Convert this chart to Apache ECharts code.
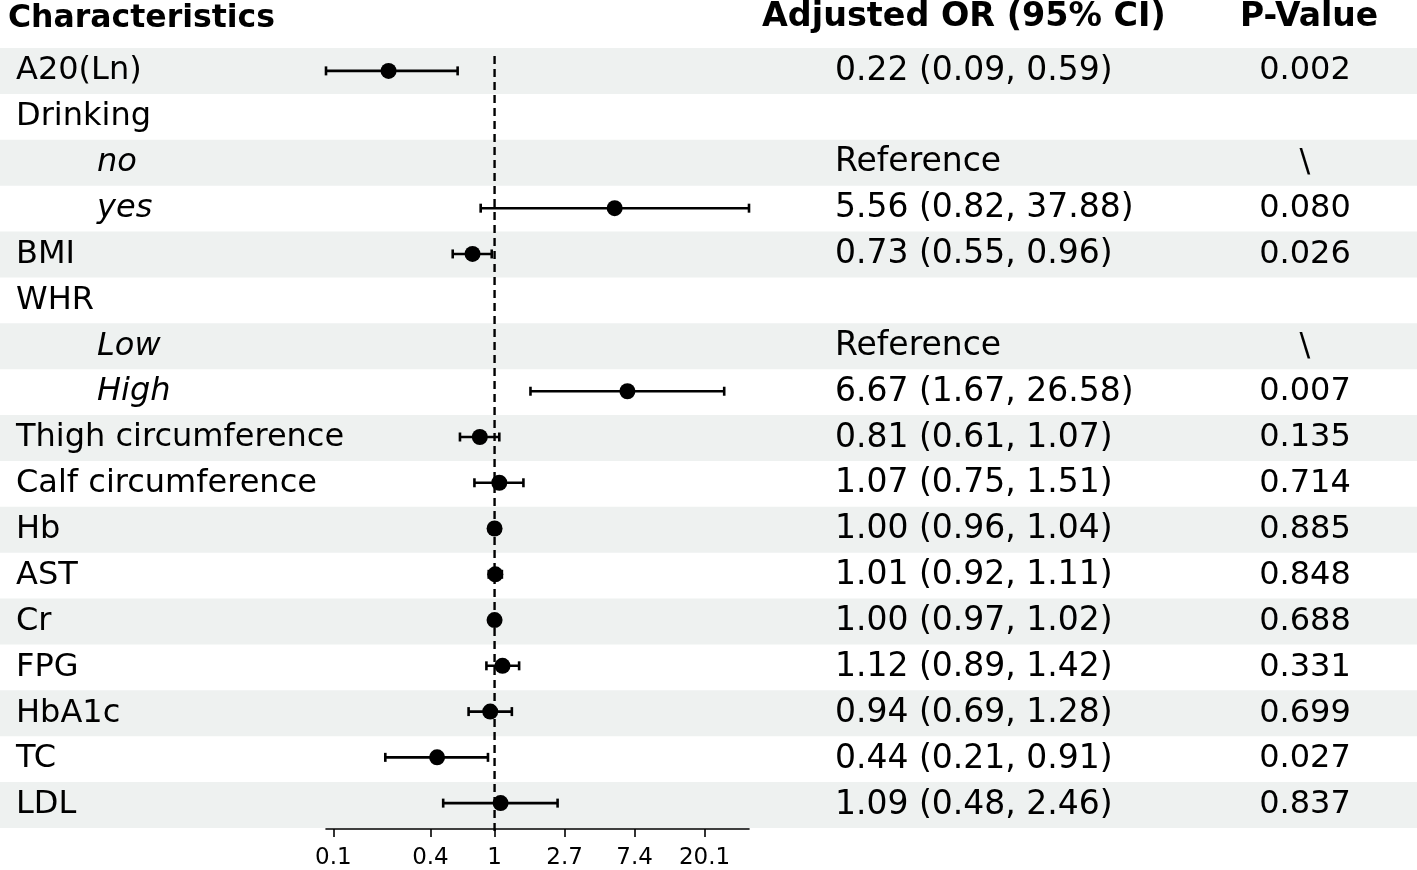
<!DOCTYPE html>
<html>
<head>
<meta charset="utf-8">
<script src="https://cdn.jsdelivr.net/npm/echarts@6/dist/echarts.min.js"></script>
<style>
  html, body { margin: 0; padding: 0; background: #fff; }
  #main { width: 1417px; height: 870px; }
</style>
</head>
<body>
<div id="main"></div>
<script>
var characteristics = ['A20(Ln)', 'Drinking', 'no', 'yes', 'BMI', 'WHR', 'Low', 'High',
  'Thigh circumference', 'Calf circumference', 'Hb', 'AST', 'Cr', 'FPG', 'HbA1c', 'TC', 'LDL'];
var subLevel = [0, 0, 1, 1, 0, 0, 1, 1, 0, 0, 0, 0, 0, 0, 0, 0, 0];
var isReference = [0, 0, 1, 0, 0, 0, 1, 0, 0, 0, 0, 0, 0, 0, 0, 0, 0];
var oddsRatio = [0.22, null, null, 5.56, 0.73, null, null, 6.67, 0.81, 1.07, 1.00, 1.01, 1.00, 1.12, 0.94, 0.44, 1.09];
var ciLower   = [0.09, null, null, 0.82, 0.55, null, null, 1.67, 0.61, 0.75, 0.96, 0.92, 0.97, 0.89, 0.69, 0.21, 0.48];
var ciUpper   = [0.59, null, null, 37.88, 0.96, null, null, 26.58, 1.07, 1.51, 1.04, 1.11, 1.02, 1.42, 1.28, 0.91, 2.46];
var pValues = ['0.002', '', '\\', '0.080', '0.026', '', '\\', '0.007', '0.135', '0.714',
  '0.885', '0.848', '0.688', '0.331', '0.699', '0.027', '0.837'];
var stripe = [1, 0, 1, 0, 1, 0, 1, 0, 1, 0, 1, 0, 1, 0, 1, 0, 1];
var tickValues = [0.1, 0.4, 1, Math.E, Math.E * Math.E, Math.pow(Math.E, 3)];
var tickLabels = ['0.1', '0.4', '1', '2.7', '7.4', '20.1'];
var nullLine = 1; // OR = 1, drawn dashed

var FONT = 'DejaVu Sans';
var rowIdx = characteristics.map(function (c, i) { return i; });
var tickLn = tickValues.map(function (v) { return Math.log(v); });
var xMin = Math.log(ciLower[0]), xMax = Math.log(ciUpper[3]);

function orLabel(i) {
  if (isReference[i]) return 'Reference';
  if (oddsRatio[i] == null) return '';
  return oddsRatio[i].toFixed(2) + ' (' + ciLower[i].toFixed(2) + ', ' + ciUpper[i].toFixed(2) + ')';
}

var ciData = [], pointData = [], orTextData = [], pTextData = [];
rowIdx.forEach(function (i) {
  if (oddsRatio[i] != null) {
    ciData.push([Math.log(ciLower[i]), Math.log(ciUpper[i]), i]);
    pointData.push([Math.log(oddsRatio[i]), i]);
  }
  orTextData.push({ value: [0, i], label: { formatter: orLabel(i) } });
  pTextData.push({ value: [0, i], label: { formatter: pValues[i] } });
});

var gridTop = 48, gridHeight = 780;
function catAxis(gridIndex) {
  return {
    type: 'category', gridIndex: gridIndex, data: characteristics, inverse: true,
    show: false, boundaryGap: true
  };
}
function plainX(gridIndex) {
  return { type: 'value', gridIndex: gridIndex, min: 0, max: 1, show: false };
}

function renderCI(params, api) {
  var y = api.value(2);
  var a = api.coord([api.value(0), y]);
  var b = api.coord([api.value(1), y]);
  var cap = 4.5;
  var st = { stroke: '#000', lineWidth: 2.6 };
  return {
    type: 'group',
    children: [
      { type: 'line', shape: { x1: a[0], y1: a[1], x2: b[0], y2: b[1] }, style: st },
      { type: 'line', shape: { x1: a[0], y1: a[1] - cap, x2: a[0], y2: a[1] + cap }, style: st },
      { type: 'line', shape: { x1: b[0], y1: b[1] - cap, x2: b[0], y2: b[1] + cap }, style: st }
    ]
  };
}

var chart = echarts.init(document.getElementById('main'));
chart.setOption({
  animation: false,
  backgroundColor: '#fff',
  textStyle: { fontFamily: FONT, color: '#000' },
  graphic: [
    { type: 'text', left: 8, top: 3, style: { text: 'Characteristics', font: 'bold 31.5px ' + FONT, fill: '#000' } },
    { type: 'text', left: 762, top: 1, style: { text: 'Adjusted OR (95% CI)', font: 'bold 33.4px ' + FONT, fill: '#000' } },
    { type: 'text', left: 1240, top: 1, style: { text: 'P-Value', font: 'bold 33px ' + FONT, fill: '#000' } }
  ],
  grid: [
    { left: 0, right: 0, top: gridTop, height: gridHeight },
    { left: 326, width: 423, top: gridTop, height: gridHeight },
    { left: 835, width: 300, top: gridTop, height: gridHeight },
    { left: 1305, width: 10, top: gridTop, height: gridHeight },
    { left: 326, width: 423, top: gridTop + 4, height: gridHeight - 1 }
  ],
  xAxis: [
    plainX(0),
    {
      type: 'value', gridIndex: 1, z: 10,
      min: xMin, max: xMax,
      offset: 3,
      axisLine: { show: true, lineStyle: { color: '#000', width: 1.6 } },
      axisTick: { show: true, customValues: tickLn, length: 8, lineStyle: { color: '#000', width: 1.6 } },
      axisLabel: {
        customValues: tickLn, margin: 18, fontSize: 23, color: '#000', fontFamily: FONT,
        formatter: function (v) {
          var best = 0;
          tickLn.forEach(function (t, k) { if (Math.abs(t - v) < Math.abs(tickLn[best] - v)) best = k; });
          return tickLabels[best];
        }
      },
      splitLine: { show: false }
    },
    plainX(2),
    plainX(3),
    { type: 'value', gridIndex: 4, min: xMin, max: xMax, show: false }
  ],
  yAxis: [
    {
      type: 'category', gridIndex: 0, data: characteristics, inverse: true, z: 10,
      axisLine: { show: false }, axisTick: { show: false },
      axisLabel: {
        inside: true, margin: 16, align: 'left',
        formatter: function (v, i) {
          return subLevel[i] ? '{sub|' + v + '}' : '{main|' + v + '}';
        },
        rich: {
          main: { fontSize: 32, fontFamily: FONT, color: '#000' },
          sub: { fontSize: 32, fontFamily: FONT, color: '#000', fontStyle: 'italic', padding: [0, 0, 0, 81] }
        }
      }
    },
    catAxis(1), catAxis(2), catAxis(3),
    { type: 'value', gridIndex: 4, min: 0, max: 1, show: false }
  ],
  series: [
    {
      type: 'bar', xAxisIndex: 0, yAxisIndex: 0, silent: true,
      data: stripe, barWidth: '100%', barCategoryGap: 0,
      itemStyle: { color: '#eef1f0' }, z: 0
    },
    {
      type: 'line', xAxisIndex: 4, yAxisIndex: 4, silent: true,
      data: [[Math.log(nullLine), 0], [Math.log(nullLine), 1]],
      symbol: 'none', lineStyle: { color: '#000', type: [8, 5], width: 2.4 }, z: 2
    },
    {
      type: 'custom', xAxisIndex: 1, yAxisIndex: 1, silent: true,
      renderItem: renderCI, data: ciData,
      encode: { x: [0, 1], y: 2 }, z: 3
    },
    {
      type: 'scatter', xAxisIndex: 1, yAxisIndex: 1, silent: true,
      data: pointData, symbol: 'circle', symbolSize: 16,
      itemStyle: { color: '#000', opacity: 1 }, z: 4
    },
    {
      type: 'scatter', xAxisIndex: 2, yAxisIndex: 2, silent: true,
      data: orTextData, symbolSize: 0, itemStyle: { opacity: 1 },
      label: { show: true, position: 'right', distance: 0, fontSize: 33, fontFamily: FONT, color: '#000' }
    },
    {
      type: 'scatter', xAxisIndex: 3, yAxisIndex: 3, silent: true,
      data: pTextData, symbolSize: 0, itemStyle: { opacity: 1 },
      label: { show: true, position: 'inside', fontSize: 32, fontFamily: FONT, color: '#000' }
    }
  ]
});
</script>
</body>
</html>
